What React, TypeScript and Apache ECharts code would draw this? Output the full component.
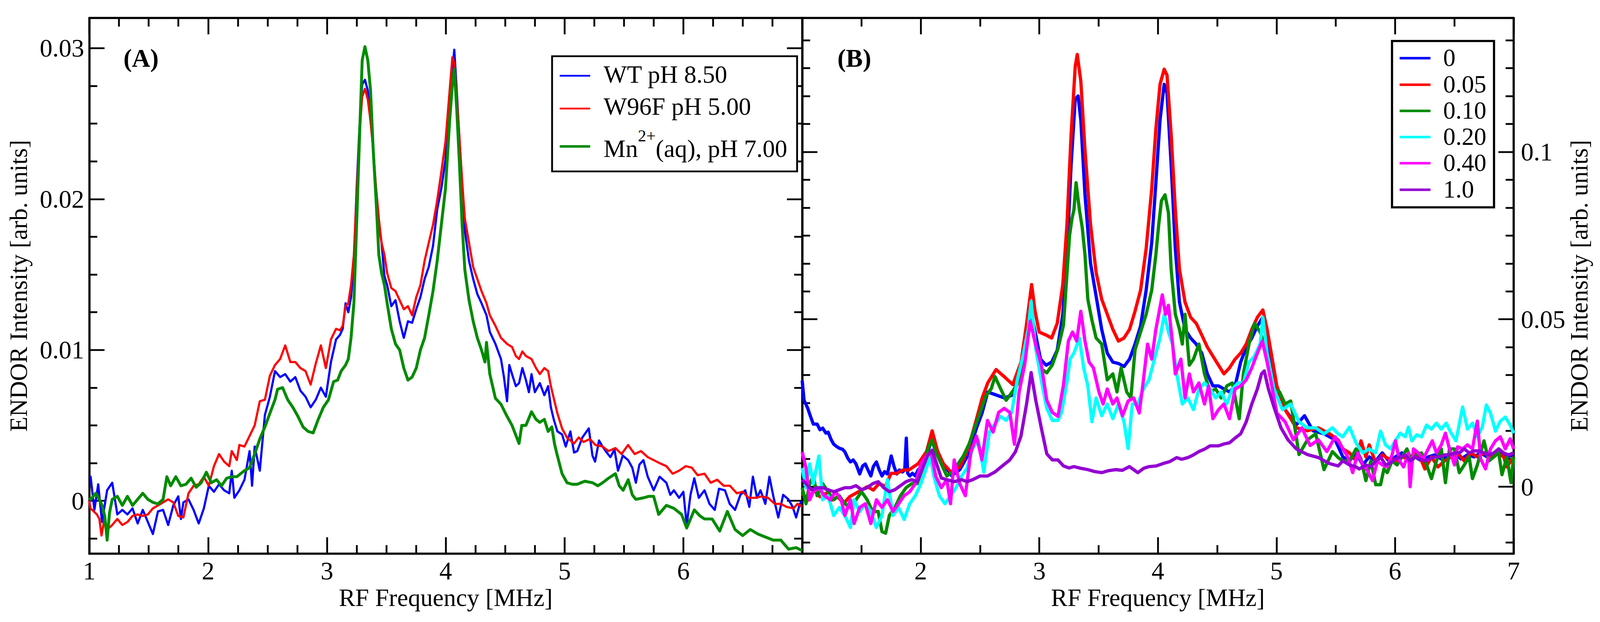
import React, { useEffect, useRef } from "react";
import * as echarts from "echarts";

type P = [number, number];

// ---------------- Panel A data (RF frequency MHz, intensity) ----------------
const namesA = ["WT pH 8.50", "W96F pH 5.00", "Mn2+(aq), pH 7.00"];
const mnLabelParts = ["Mn", "2+", "(aq), pH 7.00"];
const colorsA = ["#0000ff", "#ff0000", "#008b00"];

const wtA: P[] = [[1.0,0.0016],[1.011,0.0016],[1.043,-0.0006],[1.075,0.0011],[1.107,-0.0014],[1.15,0.0007],[1.193,0.0012],[1.236,-0.0009],[1.278,-0.0006],[1.321,-0.0009],[1.364,-0.0005],[1.407,-0.0015],[1.45,-0.0006],[1.493,-0.0014],[1.535,-0.0022],[1.578,-0.0007],[1.621,-0.0006],[1.664,-0.0016],[1.707,-0.0003],[1.749,0.0003],[1.771,-0.0012],[1.792,-0.0001],[1.835,0.0001],[1.878,-0.0006],[1.921,-0.0015],[1.964,-0.0005],[2.006,0.001],[2.049,0.0006],[2.092,0.0011],[2.135,0.0007],[2.178,0.0005],[2.199,0.002],[2.221,0.0002],[2.263,0.0007],[2.306,0.0014],[2.349,0.0033],[2.37,0.001],[2.392,0.0036],[2.435,0.002],[2.478,0.0057],[2.52,0.0069],[2.563,0.0086],[2.606,0.0082],[2.649,0.0084],[2.692,0.0079],[2.734,0.0082],[2.777,0.0073],[2.82,0.0069],[2.863,0.0062],[2.906,0.0067],[2.949,0.0075],[2.991,0.0069],[3.034,0.0092],[3.077,0.0107],[3.11,0.011],[3.133,0.0114],[3.157,0.0131],[3.18,0.0125],[3.203,0.0135],[3.227,0.0159],[3.25,0.0207],[3.273,0.0246],[3.297,0.0276],[3.32,0.0279],[3.344,0.0272],[3.367,0.0252],[3.39,0.0234],[3.414,0.0203],[3.437,0.0183],[3.46,0.0171],[3.484,0.0149],[3.507,0.0143],[3.542,0.0129],[3.577,0.0133],[3.612,0.0119],[3.647,0.0108],[3.682,0.0119],[3.717,0.0118],[3.752,0.0127],[3.787,0.0135],[3.822,0.0147],[3.857,0.0155],[3.893,0.0169],[3.928,0.0193],[3.963,0.0207],[3.998,0.0226],[4.033,0.0262],[4.056,0.0286],[4.072,0.0299],[4.091,0.0274],[4.114,0.0242],[4.138,0.021],[4.161,0.0179],[4.196,0.0159],[4.231,0.0147],[4.266,0.0137],[4.301,0.0131],[4.343,0.0123],[4.371,0.0112],[4.418,0.0104],[4.465,0.0094],[4.49,0.0082],[4.516,0.0066],[4.535,0.009],[4.558,0.0084],[4.59,0.0076],[4.617,0.0078],[4.645,0.0088],[4.675,0.008],[4.7,0.0072],[4.722,0.0084],[4.75,0.0072],[4.792,0.0078],[4.83,0.007],[4.862,0.0076],[4.885,0.0062],[4.909,0.0054],[4.94,0.0046],[4.979,0.0044],[5.01,0.0036],[5.049,0.0046],[5.08,0.0032],[5.107,0.0033],[5.15,0.0042],[5.204,0.0048],[5.235,0.003],[5.257,0.0026],[5.29,0.004],[5.32,0.0036],[5.355,0.0032],[5.386,0.0029],[5.42,0.0034],[5.45,0.002],[5.49,0.003],[5.535,0.0027],[5.57,0.0022],[5.6,0.0012],[5.63,0.0024],[5.664,0.0027],[5.7,0.0016],[5.75,0.0007],[5.8,0.0016],[5.857,0.0012],[5.89,0.0004],[5.92,0.0007],[5.964,0.0002],[6.0,0.0006],[6.028,-0.0016],[6.06,0.0004],[6.092,0.0015],[6.13,0.0002],[6.178,0.0007],[6.22,-0.0002],[6.264,-0.0006],[6.3,0.0008],[6.35,0.0007],[6.39,-0.0002],[6.435,-0.0006],[6.48,0.0004],[6.521,0.0007],[6.555,-0.0004],[6.585,0.0016],[6.62,0.0002],[6.649,0.0007],[6.69,-0.0002],[6.724,0.0016],[6.76,0.0002],[6.799,-0.0011],[6.84,0.0004],[6.884,0.0001],[6.92,-0.0004],[6.949,-0.0011],[6.98,-0.0002],[7.0,0.0]];

const w96fA: P[] = [[1.0,0.0],[1.01,-0.0005],[1.064,-0.0009],[1.085,-0.0012],[1.103,-0.0023],[1.125,-0.0013],[1.15,-0.0019],[1.193,-0.0016],[1.236,-0.0012],[1.278,-0.0016],[1.321,-0.0014],[1.364,-0.001],[1.407,-0.0009],[1.45,-0.001],[1.493,-0.0009],[1.535,-0.0005],[1.578,-0.0003],[1.621,-0.0001],[1.664,0.0001],[1.707,-0.0001],[1.749,-0.001],[1.792,-0.0011],[1.835,0.0005],[1.878,0.001],[1.921,0.0011],[1.964,0.0016],[2.006,0.001],[2.049,0.0023],[2.092,0.0031],[2.135,0.0026],[2.178,0.0023],[2.199,0.0033],[2.242,0.0027],[2.263,0.0037],[2.306,0.0036],[2.349,0.0043],[2.392,0.005],[2.435,0.0066],[2.478,0.0067],[2.52,0.0083],[2.563,0.009],[2.606,0.0094],[2.649,0.0103],[2.692,0.0092],[2.734,0.0092],[2.777,0.0088],[2.82,0.0086],[2.863,0.0077],[2.906,0.0091],[2.949,0.0103],[2.991,0.0088],[3.034,0.0107],[3.077,0.0114],[3.11,0.0113],[3.133,0.0116],[3.157,0.0129],[3.18,0.0131],[3.203,0.0143],[3.227,0.0163],[3.25,0.0203],[3.273,0.0242],[3.297,0.0268],[3.32,0.0273],[3.344,0.0266],[3.367,0.0252],[3.39,0.0232],[3.414,0.0207],[3.437,0.0187],[3.46,0.0171],[3.484,0.0163],[3.507,0.0151],[3.542,0.0141],[3.577,0.0139],[3.612,0.0133],[3.647,0.0127],[3.682,0.0129],[3.717,0.0123],[3.752,0.0135],[3.787,0.0143],[3.822,0.0159],[3.857,0.0171],[3.893,0.0183],[3.928,0.0199],[3.963,0.0218],[3.998,0.0238],[4.033,0.0272],[4.056,0.0294],[4.072,0.029],[4.091,0.027],[4.114,0.0242],[4.138,0.0212],[4.161,0.0187],[4.196,0.0171],[4.231,0.0155],[4.266,0.0147],[4.301,0.0139],[4.343,0.0131],[4.371,0.0123],[4.418,0.0116],[4.465,0.0108],[4.516,0.0104],[4.558,0.0102],[4.59,0.0096],[4.617,0.0094],[4.645,0.0099],[4.675,0.0096],[4.722,0.0094],[4.76,0.0088],[4.792,0.0084],[4.83,0.0088],[4.862,0.0086],[4.885,0.0076],[4.909,0.0068],[4.94,0.0058],[4.979,0.0048],[5.02,0.0042],[5.049,0.004],[5.08,0.0038],[5.119,0.0042],[5.16,0.0039],[5.214,0.0041],[5.26,0.0037],[5.32,0.0036],[5.37,0.0033],[5.428,0.0035],[5.48,0.0031],[5.535,0.0037],[5.59,0.0031],[5.643,0.0033],[5.7,0.0029],[5.75,0.0027],[5.8,0.0025],[5.857,0.0023],[5.91,0.0018],[5.964,0.002],[6.02,0.0023],[6.071,0.0022],[6.12,0.0017],[6.178,0.0018],[6.23,0.0012],[6.285,0.0014],[6.34,0.001],[6.392,0.001],[6.45,0.0005],[6.499,0.0006],[6.55,0.0002],[6.606,0.0002],[6.66,0.0003],[6.713,0.0002],[6.77,-0.0002],[6.82,-0.0002],[6.87,-0.0004],[6.927,-0.0005],[6.96,-0.0002],[7.0,-0.0004]];

const mnA: P[] = [[1.0,0.0002],[1.011,0.0001],[1.054,0.0005],[1.085,0.0001],[1.107,-0.0003],[1.13,-0.001],[1.15,-0.0026],[1.17,-0.0008],[1.193,0.0001],[1.236,0.0003],[1.278,-0.0003],[1.321,0.0003],[1.364,-0.0003],[1.407,0.0001],[1.45,0.0005],[1.493,0.0001],[1.535,-0.0001],[1.578,-0.0002],[1.621,0.0001],[1.653,0.0016],[1.685,0.001],[1.728,0.0016],[1.771,0.001],[1.814,0.0011],[1.857,0.0015],[1.899,0.0009],[1.942,0.0012],[1.985,0.0019],[2.028,0.0012],[2.071,0.0014],[2.113,0.001],[2.156,0.0015],[2.199,0.0016],[2.242,0.0016],[2.306,0.002],[2.349,0.0022],[2.392,0.0031],[2.435,0.0041],[2.478,0.0049],[2.52,0.0058],[2.563,0.0067],[2.585,0.0074],[2.627,0.0075],[2.67,0.0067],[2.713,0.0062],[2.756,0.0056],[2.799,0.0049],[2.842,0.0046],[2.884,0.0045],[2.927,0.0054],[2.97,0.0062],[3.013,0.0067],[3.056,0.0079],[3.09,0.008],[3.12,0.0086],[3.157,0.009],[3.18,0.0094],[3.203,0.0108],[3.227,0.0131],[3.25,0.0183],[3.273,0.0238],[3.297,0.0292],[3.32,0.0301],[3.344,0.0292],[3.367,0.0272],[3.39,0.0232],[3.414,0.0199],[3.437,0.0163],[3.46,0.0151],[3.484,0.0143],[3.507,0.0131],[3.542,0.0114],[3.577,0.0104],[3.612,0.01],[3.647,0.0088],[3.682,0.008],[3.717,0.0082],[3.752,0.0088],[3.787,0.01],[3.822,0.0108],[3.857,0.0123],[3.893,0.0139],[3.928,0.0159],[3.963,0.0183],[3.998,0.0207],[4.033,0.0252],[4.056,0.0276],[4.072,0.0286],[4.091,0.0262],[4.114,0.0226],[4.138,0.0183],[4.161,0.0153],[4.196,0.0133],[4.231,0.0119],[4.266,0.0108],[4.301,0.01],[4.33,0.0092],[4.343,0.0105],[4.371,0.0084],[4.418,0.0068],[4.465,0.0064],[4.516,0.0056],[4.558,0.005],[4.617,0.0038],[4.64,0.005],[4.675,0.005],[4.722,0.0059],[4.76,0.0054],[4.792,0.0052],[4.83,0.0054],[4.862,0.0046],[4.893,0.0049],[4.915,0.0038],[4.936,0.0031],[4.979,0.0018],[5.021,0.0012],[5.064,0.0011],[5.107,0.0011],[5.17,0.0013],[5.236,0.0012],[5.28,0.001],[5.32,0.0012],[5.37,0.0015],[5.428,0.0018],[5.46,0.001],[5.493,0.0007],[5.536,0.0014],[5.57,0.0004],[5.6,0.0001],[5.664,0.0002],[5.71,0.0003],[5.75,0.0003],[5.792,-0.0009],[5.857,-0.0003],[5.921,-0.0005],[5.985,-0.0009],[6.028,-0.0018],[6.092,-0.0006],[6.14,-0.001],[6.178,-0.0012],[6.242,-0.0012],[6.306,-0.002],[6.37,-0.0007],[6.435,-0.0019],[6.499,-0.0023],[6.563,-0.0019],[6.628,-0.0022],[6.692,-0.0024],[6.756,-0.0026],[6.82,-0.0026],[6.885,-0.0032],[6.949,-0.0031],[7.0,-0.0033]];

// ---------------- Panel B data ----------------
const namesB = ["0", "0.05", "0.10", "0.20", "0.40", "1.0"];
const colorsB = ["#0000ff", "#ff0000", "#008b00", "#00ffff", "#ff00ff", "#9400d3"];

const b000: P[] = [[1.0,0.0317],[1.016,0.0258],[1.047,0.0234],[1.07,0.021],[1.094,0.0187],[1.126,0.0187],[1.15,0.017],[1.173,0.0175],[1.2,0.016],[1.219,0.0163],[1.245,0.014],[1.266,0.0127],[1.29,0.012],[1.313,0.0115],[1.34,0.0112],[1.36,0.0104],[1.385,0.0085],[1.407,0.0074],[1.43,0.008],[1.454,0.0068],[1.485,0.0038],[1.51,0.0062],[1.532,0.0068],[1.555,0.005],[1.579,0.0032],[1.6,0.006],[1.626,0.0074],[1.65,0.005],[1.673,0.0032],[1.695,0.0045],[1.719,0.0038],[1.751,0.0092],[1.775,0.006],[1.798,0.0038],[1.82,0.005],[1.845,0.0044],[1.865,0.005],[1.878,0.0145],[1.89,0.004],[1.907,0.0032],[1.93,0.004],[1.954,0.0032],[1.979,0.0051],[2.0,0.0056],[2.049,0.0096],[2.096,0.0141],[2.143,0.0105],[2.19,0.0069],[2.26,0.0033],[2.33,0.0051],[2.401,0.0096],[2.471,0.0176],[2.518,0.0221],[2.565,0.0283],[2.635,0.0274],[2.706,0.0265],[2.776,0.0274],[2.846,0.0355],[2.893,0.0426],[2.935,0.0515],[2.975,0.0444],[3.01,0.0381],[3.057,0.0363],[3.104,0.0372],[3.151,0.0408],[3.198,0.0515],[3.233,0.0693],[3.268,0.0961],[3.303,0.1158],[3.327,0.1167],[3.35,0.1095],[3.385,0.0872],[3.432,0.0667],[3.479,0.0569],[3.526,0.047],[3.573,0.0399],[3.62,0.0372],[3.667,0.0368],[3.714,0.0359],[3.761,0.0381],[3.807,0.0426],[3.854,0.048],[3.901,0.0587],[3.948,0.0729],[3.983,0.0908],[4.018,0.1095],[4.053,0.1202],[4.077,0.1175],[4.112,0.0961],[4.147,0.0711],[4.182,0.0551],[4.229,0.047],[4.276,0.0444],[4.323,0.0426],[4.37,0.0399],[4.417,0.0337],[4.464,0.0301],[4.511,0.0301],[4.557,0.0292],[4.604,0.0283],[4.651,0.0301],[4.698,0.0372],[4.745,0.0417],[4.792,0.0444],[4.839,0.048],[4.885,0.0506],[4.921,0.0444],[4.956,0.0372],[5.003,0.0292],[5.073,0.023],[5.167,0.0185],[5.237,0.0212],[5.308,0.0167],[5.401,0.0158],[5.495,0.014],[5.56,0.0089],[5.616,0.0077],[5.671,0.0101],[5.727,0.0065],[5.782,0.0089],[5.837,0.0077],[5.892,0.0101],[5.948,0.0077],[6.003,0.0089],[6.058,0.0101],[6.114,0.0077],[6.169,0.0089],[6.224,0.0077],[6.28,0.0089],[6.335,0.0095],[6.39,0.0083],[6.445,0.0089],[6.5,0.0101],[6.556,0.0083],[6.611,0.0095],[6.667,0.0089],[6.722,0.0101],[6.777,0.0089],[6.833,0.0095],[6.888,0.0101],[6.943,0.0089],[7.0,0.0095]];

const b005: P[] = [[1.0,-0.002],[1.05,-0.004],[1.1,-0.001],[1.15,-0.003],[1.2,-0.002],[1.25,-0.004],[1.3,-0.003],[1.35,-0.005],[1.4,-0.003],[1.45,-0.002],[1.5,-0.001],[1.55,0.0],[1.6,-0.001],[1.65,0.001],[1.7,0.0],[1.75,0.004],[1.8,0.004],[1.85,0.005],[1.9,0.005],[1.979,0.0069],[2.049,0.0105],[2.096,0.0167],[2.143,0.0105],[2.19,0.0069],[2.26,0.0042],[2.33,0.006],[2.401,0.0114],[2.471,0.0203],[2.518,0.0265],[2.565,0.031],[2.635,0.035],[2.706,0.0328],[2.776,0.0305],[2.846,0.0372],[2.893,0.0488],[2.935,0.0604],[2.964,0.0524],[2.999,0.0462],[3.057,0.0453],[3.104,0.0444],[3.151,0.0488],[3.198,0.0604],[3.233,0.0783],[3.268,0.1051],[3.303,0.1256],[3.32,0.1291],[3.35,0.1211],[3.385,0.1006],[3.432,0.0783],[3.479,0.064],[3.526,0.056],[3.573,0.0515],[3.62,0.047],[3.667,0.0435],[3.714,0.0444],[3.761,0.047],[3.807,0.0524],[3.854,0.0587],[3.901,0.0711],[3.948,0.089],[3.983,0.1069],[4.018,0.1202],[4.053,0.1247],[4.077,0.1229],[4.112,0.1051],[4.147,0.0828],[4.182,0.0649],[4.229,0.0551],[4.276,0.0506],[4.323,0.0488],[4.37,0.0453],[4.417,0.0417],[4.464,0.039],[4.511,0.0363],[4.557,0.0337],[4.604,0.0355],[4.651,0.0381],[4.698,0.0399],[4.745,0.0426],[4.792,0.047],[4.839,0.0506],[4.885,0.0528],[4.921,0.047],[4.956,0.0399],[5.003,0.0301],[5.073,0.023],[5.167,0.0176],[5.261,0.0167],[5.354,0.0176],[5.448,0.0158],[5.52,0.014],[5.56,0.0113],[5.616,0.0101],[5.671,0.0077],[5.713,0.0137],[5.754,0.0089],[5.782,0.0125],[5.837,0.0071],[5.892,0.0095],[5.948,0.0083],[6.003,0.0077],[6.058,0.0089],[6.114,0.0083],[6.169,0.0101],[6.224,0.0077],[6.252,0.0053],[6.307,0.0089],[6.362,0.0059],[6.418,0.0077],[6.473,0.0089],[6.528,0.0101],[6.584,0.0077],[6.639,0.0101],[6.694,0.0089],[6.75,0.0101],[6.805,0.0089],[6.86,0.0101],[6.916,0.0089],[6.943,0.0059],[7.0,0.0089]];

const b010: P[] = [[1.0,-0.0003],[1.032,-0.0051],[1.063,0.0009],[1.094,0.0033],[1.126,-0.0027],[1.173,0.0009],[1.219,-0.0015],[1.266,-0.0039],[1.313,-0.0027],[1.36,-0.0051],[1.407,-0.0062],[1.454,-0.0039],[1.501,-0.0015],[1.548,-0.0039],[1.594,-0.0074],[1.641,-0.0074],[1.673,-0.0134],[1.704,-0.0139],[1.735,-0.0086],[1.782,-0.0062],[1.829,-0.0027],[1.876,-0.0003],[1.923,0.0009],[1.97,0.0009],[2.017,0.0056],[2.063,0.0115],[2.095,0.0139],[2.126,0.0104],[2.173,0.0068],[2.22,0.0032],[2.267,0.0044],[2.314,0.0068],[2.36,0.0092],[2.407,0.0127],[2.454,0.0175],[2.501,0.0222],[2.548,0.027],[2.595,0.0293],[2.626,0.0329],[2.673,0.0293],[2.72,0.0258],[2.767,0.0281],[2.813,0.0305],[2.86,0.0364],[2.907,0.0459],[2.931,0.0483],[2.97,0.0423],[3.017,0.0352],[3.063,0.034],[3.11,0.0364],[3.157,0.0412],[3.204,0.0483],[3.23,0.062],[3.255,0.075],[3.275,0.08],[3.292,0.0827],[3.31,0.0908],[3.338,0.0827],[3.362,0.0774],[3.385,0.0693],[3.409,0.056],[3.444,0.0497],[3.479,0.0444],[3.526,0.0426],[3.573,0.0319],[3.62,0.0337],[3.655,0.0283],[3.69,0.0355],[3.737,0.0283],[3.772,0.0265],[3.807,0.0408],[3.854,0.0462],[3.901,0.0515],[3.948,0.0587],[3.983,0.0693],[4.007,0.0783],[4.03,0.0854],[4.06,0.0872],[4.089,0.0818],[4.112,0.0649],[4.147,0.0515],[4.182,0.047],[4.206,0.0426],[4.229,0.0515],[4.265,0.0363],[4.3,0.0381],[4.346,0.0426],[4.393,0.0337],[4.44,0.0283],[4.487,0.0292],[4.534,0.0265],[4.581,0.0301],[4.628,0.031],[4.686,0.0203],[4.721,0.0337],[4.768,0.0426],[4.815,0.0488],[4.862,0.0462],[4.897,0.0426],[4.932,0.0381],[4.979,0.0292],[5.026,0.0283],[5.073,0.0247],[5.12,0.0256],[5.19,0.0096],[5.261,0.014],[5.331,0.0158],[5.401,0.0051],[5.472,0.0105],[5.52,0.0087],[5.56,0.0077],[5.616,0.0077],[5.671,0.0113],[5.713,0.0083],[5.754,0.0018],[5.796,0.0077],[5.837,0.0006],[5.878,0.0006],[5.906,0.0053],[5.934,0.0042],[5.975,0.0077],[6.017,0.0065],[6.058,0.0089],[6.1,0.0113],[6.141,0.0077],[6.183,0.0095],[6.224,0.0101],[6.266,0.0065],[6.307,0.0024],[6.349,0.0077],[6.39,0.0113],[6.425,0.0012],[6.459,0.0113],[6.501,0.0113],[6.542,0.0042],[6.584,0.0065],[6.625,0.0089],[6.653,0.0024],[6.694,0.0065],[6.75,0.0137],[6.791,0.0077],[6.833,0.0089],[6.874,0.0101],[6.902,0.0036],[6.943,0.0089],[6.978,0.0012],[7.0,0.0089]];

const b020: P[] = [[1.0,0.0056],[1.032,-0.0003],[1.063,0.0068],[1.094,0.0009],[1.141,0.0092],[1.173,-0.0039],[1.219,-0.0027],[1.266,-0.0086],[1.313,-0.0062],[1.36,-0.0086],[1.407,-0.0122],[1.438,-0.0039],[1.485,-0.0074],[1.532,-0.0051],[1.579,-0.0074],[1.626,-0.0122],[1.673,-0.0086],[1.719,0.0021],[1.766,-0.0086],[1.813,-0.0062],[1.86,-0.0098],[1.907,-0.0051],[1.954,-0.0027],[2.001,0.0009],[2.048,0.0056],[2.079,0.0092],[2.11,0.0032],[2.157,-0.0027],[2.204,-0.0051],[2.251,-0.0027],[2.298,-0.0003],[2.345,0.0032],[2.391,0.0056],[2.438,0.0115],[2.485,0.0139],[2.532,0.0044],[2.579,0.0163],[2.626,0.0187],[2.673,0.021],[2.72,0.0198],[2.767,0.0222],[2.813,0.0317],[2.86,0.0388],[2.907,0.0471],[2.931,0.0554],[2.97,0.0412],[3.017,0.0317],[3.063,0.0234],[3.11,0.0198],[3.157,0.0198],[3.188,0.0222],[3.235,0.0317],[3.26,0.0381],[3.292,0.0399],[3.338,0.0444],[3.374,0.0355],[3.409,0.0301],[3.444,0.0194],[3.479,0.0265],[3.526,0.0212],[3.573,0.0247],[3.62,0.0203],[3.667,0.0247],[3.714,0.0194],[3.749,0.0114],[3.784,0.0247],[3.831,0.0247],[3.878,0.0292],[3.925,0.0319],[3.971,0.0381],[4.018,0.0444],[4.054,0.0515],[4.089,0.0462],[4.124,0.0426],[4.159,0.0337],[4.206,0.0247],[4.253,0.0265],[4.3,0.023],[4.346,0.0292],[4.393,0.031],[4.44,0.0292],[4.487,0.0265],[4.534,0.0283],[4.581,0.0247],[4.628,0.0292],[4.675,0.031],[4.722,0.031],[4.768,0.0372],[4.815,0.039],[4.862,0.0426],[4.885,0.0506],[4.921,0.0399],[4.979,0.0292],[5.05,0.023],[5.12,0.0247],[5.19,0.0194],[5.26,0.0176],[5.331,0.0176],[5.401,0.0158],[5.472,0.0176],[5.52,0.0158],[5.56,0.0149],[5.616,0.0178],[5.671,0.0131],[5.727,0.0101],[5.782,0.0113],[5.837,0.0101],[5.878,0.0166],[5.92,0.0125],[5.962,0.0113],[6.003,0.0137],[6.044,0.016],[6.086,0.0149],[6.114,0.0178],[6.141,0.0137],[6.183,0.0155],[6.224,0.0149],[6.266,0.0184],[6.307,0.0172],[6.349,0.019],[6.39,0.0172],[6.432,0.019],[6.473,0.016],[6.514,0.0137],[6.57,0.0238],[6.611,0.0172],[6.653,0.019],[6.694,0.0149],[6.736,0.0178],[6.77,0.0244],[6.805,0.022],[6.847,0.0166],[6.888,0.0196],[6.93,0.0208],[6.971,0.0184],[7.0,0.016]];

const b040: P[] = [[1.0,0.0104],[1.032,0.0056],[1.063,-0.0039],[1.094,-0.0015],[1.141,-0.0003],[1.188,-0.0027],[1.235,-0.0039],[1.282,-0.0015],[1.329,-0.0039],[1.36,-0.0086],[1.407,-0.0039],[1.438,-0.011],[1.485,-0.0062],[1.532,-0.0051],[1.579,-0.011],[1.626,-0.0039],[1.673,-0.0062],[1.719,-0.0039],[1.766,-0.0074],[1.813,-0.0051],[1.86,-0.0027],[1.907,-0.0015],[1.954,0.0009],[2.001,0.0068],[2.048,0.0092],[2.087,0.0104],[2.126,0.0032],[2.173,-0.0003],[2.22,0.0021],[2.251,-0.0051],[2.282,0.008],[2.329,0.0009],[2.376,-0.0027],[2.423,0.0104],[2.47,0.0151],[2.516,0.008],[2.563,0.0198],[2.61,0.0163],[2.657,0.0222],[2.704,0.0234],[2.751,0.0222],[2.79,0.0127],[2.829,0.0281],[2.876,0.0364],[2.923,0.0494],[2.97,0.0423],[3.017,0.0364],[3.063,0.0258],[3.11,0.0222],[3.157,0.021],[3.204,0.0305],[3.245,0.0435],[3.28,0.0462],[3.315,0.0435],[3.35,0.0524],[3.385,0.0435],[3.42,0.0372],[3.456,0.0355],[3.503,0.0283],[3.538,0.0247],[3.573,0.0292],[3.62,0.0247],[3.655,0.0265],[3.702,0.0212],[3.749,0.0256],[3.796,0.0265],[3.843,0.022],[3.878,0.0319],[3.913,0.0426],[3.948,0.0381],[3.983,0.047],[4.007,0.0515],[4.037,0.0573],[4.065,0.0515],[4.089,0.0542],[4.124,0.0426],[4.147,0.0337],[4.194,0.0381],[4.229,0.0265],[4.265,0.0337],[4.3,0.0283],[4.346,0.031],[4.393,0.0247],[4.428,0.0301],[4.464,0.0203],[4.511,0.023],[4.557,0.0247],[4.604,0.0203],[4.651,0.0292],[4.698,0.0301],[4.745,0.0319],[4.792,0.0355],[4.839,0.0399],[4.881,0.0435],[4.921,0.0372],[4.956,0.031],[5.003,0.022],[5.073,0.0194],[5.143,0.014],[5.214,0.0176],[5.284,0.0123],[5.354,0.014],[5.425,0.0105],[5.495,0.0149],[5.53,0.0131],[5.56,0.0113],[5.602,0.0089],[5.643,0.0042],[5.685,0.0101],[5.727,0.0065],[5.768,0.0048],[5.81,0.0018],[5.851,0.0077],[5.892,0.0065],[5.934,0.0059],[5.975,0.0095],[6.003,0.0137],[6.038,0.0077],[6.072,0.0059],[6.114,0.0101],[6.127,0.0],[6.155,0.0113],[6.197,0.0101],[6.238,0.0083],[6.28,0.0113],[6.314,0.0137],[6.349,0.0101],[6.39,0.0125],[6.425,0.016],[6.459,0.0113],[6.501,0.0065],[6.528,0.0119],[6.57,0.0113],[6.611,0.0125],[6.653,0.0113],[6.694,0.0196],[6.722,0.0083],[6.763,0.0053],[6.805,0.0113],[6.847,0.0137],[6.888,0.0149],[6.93,0.0113],[6.971,0.0143],[7.0,0.0113]];

const b100: P[] = [[1.0,0.0021],[1.032,0.0009],[1.079,-0.0009],[1.126,-0.0003],[1.173,-0.0003],[1.219,-0.0009],[1.266,-0.0015],[1.313,-0.0009],[1.36,-0.0003],[1.407,-0.0003],[1.454,0.0003],[1.501,-0.0009],[1.548,-0.0003],[1.594,0.0009],[1.641,0.0015],[1.688,-0.0003],[1.735,-0.0015],[1.782,-0.0009],[1.829,0.0003],[1.876,0.0015],[1.923,0.0021],[1.97,0.0015],[2.017,0.0056],[2.056,0.0092],[2.095,0.0109],[2.134,0.0068],[2.173,0.0026],[2.22,0.0021],[2.282,0.0015],[2.345,0.0021],[2.391,0.0015],[2.438,0.0021],[2.501,0.0032],[2.563,0.0032],[2.626,0.0044],[2.688,0.0062],[2.751,0.008],[2.798,0.0104],[2.845,0.0151],[2.892,0.0246],[2.931,0.0341],[2.97,0.0258],[3.017,0.0175],[3.063,0.0098],[3.11,0.008],[3.157,0.008],[3.204,0.0062],[3.251,0.0056],[3.292,0.006],[3.35,0.0055],[3.409,0.0051],[3.47,0.0045],[3.526,0.0042],[3.585,0.0048],[3.643,0.0051],[3.7,0.0049],[3.76,0.006],[3.831,0.0042],[3.88,0.0055],[3.925,0.006],[3.985,0.0062],[4.042,0.0069],[4.1,0.0075],[4.159,0.0087],[4.2,0.0082],[4.253,0.0087],[4.3,0.0095],[4.346,0.0105],[4.393,0.0112],[4.44,0.0122],[4.511,0.0122],[4.56,0.0128],[4.604,0.0131],[4.65,0.0145],[4.698,0.0158],[4.745,0.0194],[4.792,0.0247],[4.839,0.0292],[4.874,0.0337],[4.897,0.0346],[4.932,0.0292],[4.979,0.0238],[5.038,0.0176],[5.097,0.014],[5.167,0.0113],[5.261,0.0096],[5.354,0.0087],[5.448,0.0069],[5.52,0.0062],[5.56,0.0077],[5.616,0.0065],[5.671,0.0059],[5.699,0.0053],[5.754,0.0065],[5.796,0.0059],[5.837,0.0077],[5.878,0.0089],[5.92,0.0065],[5.962,0.0071],[6.003,0.0083],[6.044,0.0089],[6.086,0.0095],[6.127,0.0077],[6.169,0.0089],[6.21,0.0083],[6.252,0.0077],[6.293,0.0083],[6.335,0.0089],[6.376,0.0089],[6.418,0.0095],[6.459,0.0095],[6.501,0.0101],[6.542,0.0101],[6.584,0.0113],[6.625,0.0101],[6.667,0.0107],[6.708,0.0107],[6.75,0.0101],[6.791,0.0095],[6.833,0.0101],[6.874,0.0113],[6.916,0.0101],[6.957,0.0095],[7.0,0.0101]];

// ---------------- Axis ticks and labels ----------------
const xRange = [1, 7];
const yRangeA = [-0.0035, 0.032];
const yRangeB = [-0.02, 0.14];
const xMajor = [1, 2, 3, 4, 5, 6, 7];
const xLabelsA = [1, 2, 3, 4, 5, 6];
const xLabelsB = [2, 3, 4, 5, 6, 7];
const xMinorA = [1.25, 1.5, 1.75, 2.25, 2.5, 2.75, 3.25, 3.5, 3.75, 4.25, 4.5, 4.75, 5.25, 5.5, 5.75, 6.25, 6.5, 6.75];
const xMinorB = [1.5, 2.5, 3.5, 4.5, 5.5, 6.5];
const yMajorA = [0, 0.01, 0.02, 0.03];
const yMinorA = [-0.0025, 0.0025, 0.005, 0.0075, 0.0125, 0.015, 0.0175, 0.0225, 0.025, 0.0275];
const yMajorB = [0, 0.05, 0.1];
const yMinorB = [-0.016667, -0.008333, 0.008333, 0.016667, 0.025, 0.033333, 0.041667, 0.058333, 0.066667, 0.075, 0.083333, 0.091667, 0.108333, 0.116667, 0.125, 0.133333];
const xTitle = "RF Frequency [MHz]";
const yTitle = "ENDOR Intensity [arb. units]";

const FONT = "'Liberation Serif', 'Times New Roman', Times, serif";
const BLACK = "#000000";
const REF_W = 4408;
const REF_H = 1593;

function measure(text: string, font: string) {
  const c = document.createElement("canvas").getContext("2d");
  if (!c) return text.length * 30;
  c.font = font;
  return c.measureText(text).width;
}

export default function App() {
  const ref = useRef<HTMLDivElement>(null);
  useEffect(() => {
    const el = ref.current;
    if (!el) return;
    const W = el.clientWidth || window.innerWidth || REF_W;
    const H = el.clientHeight || window.innerHeight || REF_H;
    const sx = W / REF_W;
    const sy = H / REF_H;
    const fs = Math.min(sx, sy);
    const X = (v: number) => v * sx;
    const Y = (v: number) => v * sy;
    const F = (v: number) => v * fs;

    const chart = echarts.init(el, undefined, { renderer: "svg", width: W, height: H });

    const axis = (dim: "x" | "y", grid: number, position: string, range: number[], ticks: number[], len: number, labels: number[] | null, extra: any = {}) => ({
      type: "value",
      gridIndex: grid,
      position,
      min: range[0],
      max: range[1],
      axisLine: { show: len > 30, onZero: false, lineStyle: { color: BLACK, width: F(6) } },
      axisTick: { show: true, inside: true, length: dim === "x" ? Y(len) : X(len), customValues: ticks, lineStyle: { color: BLACK, width: F(5) } },
      axisLabel: labels
        ? { show: true, customValues: labels, color: BLACK, fontSize: F(70), fontFamily: FONT, margin: dim === "x" ? Y(11) : position === "right" ? X(20) : X(14) }
        : { show: false },
      splitLine: { show: false },
      minorTick: { show: false },
      ...extra,
    });

    const nameStyle = { color: BLACK, fontSize: F(68), fontFamily: FONT };
    const gridA = { left: X(246), top: Y(46), width: X(1964), height: Y(1372) };
    const gridB = { left: X(2210), top: Y(46), width: X(1960), height: Y(1372) };

    const xAxis = [
      axis("x", 0, "bottom", xRange, xMajor, 42, xLabelsA, { name: xTitle, nameLocation: "middle", nameGap: Y(81), nameTextStyle: nameStyle }),
      axis("x", 0, "bottom", xRange, xMinorA, 22, null),
      axis("x", 0, "top", xRange, xMajor, 42, null),
      axis("x", 0, "top", xRange, xMinorA, 22, null),
      axis("x", 1, "bottom", xRange, xMajor, 42, xLabelsB, { name: xTitle, nameLocation: "middle", nameGap: Y(81), nameTextStyle: nameStyle }),
      axis("x", 1, "bottom", xRange, xMinorB, 22, null),
      axis("x", 1, "top", xRange, xMajor, 42, null),
      axis("x", 1, "top", xRange, xMinorB, 22, null),
    ];
    const yAxis = [
      axis("y", 0, "left", yRangeA, yMajorA, 42, yMajorA, { name: yTitle, nameLocation: "middle", nameRotate: 90, nameGap: X(160), nameTextStyle: nameStyle }),
      axis("y", 0, "left", yRangeA, yMinorA, 22, null),
      axis("y", 0, "right", yRangeA, yMajorA, 42, null),
      axis("y", 0, "right", yRangeA, yMinorA, 22, null),
      axis("y", 1, "right", yRangeB, yMajorB, 42, yMajorB, { name: yTitle, nameLocation: "middle", nameRotate: 90, nameGap: X(145), nameTextStyle: nameStyle }),
      axis("y", 1, "right", yRangeB, yMinorB, 22, null),
      axis("y", 1, "left", yRangeB, yMajorB, 42, null),
      axis("y", 1, "left", yRangeB, yMinorB, 22, null),
    ];

    const lineSeries = (name: string, data: P[], color: string, width: number, xi: number, yi: number) => ({
      type: "line",
      name,
      data,
      xAxisIndex: xi,
      yAxisIndex: yi,
      showSymbol: false,
      symbol: "none",
      clip: true,
      lineStyle: { color, width: F(width), join: "round" },
      itemStyle: { color },
      animation: false,
    });

    const widthsA = [6, 6, 8];
    const widthB = 9;
    const dataA = [wtA, w96fA, mnA];
    const dataB = [b000, b005, b010, b020, b040, b100];
    const series: any[] = [];
    dataA.forEach((d, i) => series.push(lineSeries(namesA[i], d, colorsA[i], widthsA[i], 0, 0)));
    dataB.forEach((d, i) => series.push(lineSeries("B " + namesB[i], d, colorsB[i], widthB, 4, 4)));

    const txt = (x: number, y: number, text: string, size: number, weight = "normal") => ({
      type: "text",
      x,
      y,
      z: 102,
      style: { text, fontSize: size, fontWeight: weight, fontFamily: FONT, fill: BLACK, align: "left", verticalAlign: "middle" },
    });

    // Legend of panel A
    const legFont = F(68);
    const legendA: any[] = [
      { type: "rect", z: 100, shape: { x: X(1521), y: Y(144), width: X(675), height: Y(295) }, style: { fill: "#ffffff", stroke: BLACK, lineWidth: F(5) } },
    ];
    const rowYA = [194, 278, 375];
    const textYA = [191, 273, 381];
    namesA.forEach((n, i) => {
      legendA.push({ type: "line", z: 101, shape: { x1: X(1542), y1: Y(rowYA[i]), x2: X(1626), y2: Y(rowYA[i]) }, style: { stroke: colorsA[i], lineWidth: F(widthsA[i] - 1) } });
    });
    legendA.push(txt(X(1663), Y(textYA[0]), namesA[0], legFont));
    legendA.push(txt(X(1663), Y(textYA[1]), namesA[1], legFont));
    const wMn = measure(mnLabelParts[0], `${legFont}px "Liberation Serif"`);
    const wSup = measure(mnLabelParts[1], `${F(46)}px "Liberation Serif"`);
    legendA.push(txt(X(1663), Y(textYA[2]), mnLabelParts[0], legFont));
    legendA.push(txt(X(1663) + wMn, Y(textYA[2] - 34), mnLabelParts[1], F(46)));
    legendA.push(txt(X(1663) + wMn + wSup, Y(textYA[2]), mnLabelParts[2], legFont));

    // Legend of panel B
    const legendB: any[] = [
      { type: "rect", z: 100, shape: { x: X(3835), y: Y(105), width: X(281), height: Y(426) }, style: { fill: "#ffffff", stroke: BLACK, lineWidth: F(6) } },
    ];
    const rowYB = [149, 217, 284, 351, 418, 486];
    namesB.forEach((n, i) => {
      legendB.push({ type: "line", z: 101, shape: { x1: X(3856), y1: Y(rowYB[i]), x2: X(3941), y2: Y(rowYB[i]) }, style: { stroke: colorsB[i], lineWidth: F(7) } });
      legendB.push(txt(X(3976), Y(rowYB[i] - 1), n, legFont));
    });

    const panelLabels = [txt(X(340), Y(149), "(A)", F(70), "bold"), txt(X(2307), Y(149), "(B)", F(70), "bold")];

    chart.setOption({
      animation: false,
      backgroundColor: "#ffffff",
      textStyle: { fontFamily: FONT },
      grid: [gridA, gridB],
      xAxis,
      yAxis,
      series,
      graphic: [...legendA, ...legendB, ...panelLabels],
    });
    return () => chart.dispose();
  }, []);
  return <div ref={ref} style={{ position: "fixed", left: 0, top: 0, width: "100vw", height: "100vh", background: "#ffffff" }} />;
}
